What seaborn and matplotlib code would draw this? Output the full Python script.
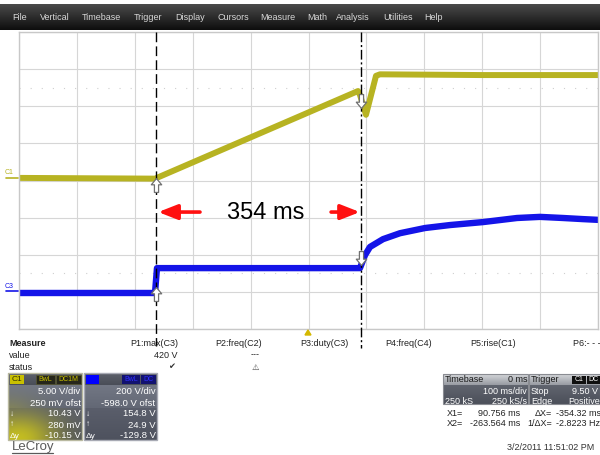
import numpy as np
import pandas as pd
import matplotlib
matplotlib.use("Agg")
import matplotlib.pyplot as plt
import seaborn as sns
from matplotlib.patches import Rectangle, Polygon
from matplotlib.lines import Line2D
from matplotlib.path import Path

# ---------------- data ----------------
# time in ms (100 ms/div, trigger at centre), amplitude in screen divisions
yellow_t_ms = [-500, -265, 85.5, 89, 99.3, 116.6, 123.5, 300, 500]
yellow_div = [0.07, 0.05, 2.41, 2.30, 1.77, 2.82, 2.86, 2.84, 2.84]

blue_t_ms = [-500, -265.1, -261.7, 88.9, 97.6, 106.2, 128.7, 158.0, 201.2,
             244.4, 301.4, 360.1, 399.8, 439.6, 474.1, 500]
blue_div = [-3.03, -3.03, -2.36, -2.36, -2.01, -1.79, -1.58, -1.42, -1.28,
            -1.20, -1.12, -1.01, -0.98, -1.01, -1.04, -1.06]

cursor_x2_ms = -263.564
cursor_x1_ms = 90.756
delta_label = "354 ms"

menu_items = ["File", "Vertical", "Timebase", "Trigger", "Display", "Cursors",
              "Measure", "Math", "Analysis", "Utilities", "Help"]
menu_x = [12, 40, 82, 134, 175, 217, 260, 307, 336, 383, 424]

measure_params = ["P1:max(C3)", "P2:freq(C2)", "P3:duty(C3)", "P4:freq(C4)",
                  "P5:rise(C1)", "P6:- - -"]
measure_x = [130, 215, 300, 385, 470, 573]

c1_values = ["5.00 V/div", "250 mV ofst", "10.43 V", "280 mV", "-10.15 V"]
c3_values = ["200 V/div", "-598.0 V ofst", "154.8 V", "24.9 V", "-129.8 V"]

YELLOW = "#b7b322"
BLUE = "#1414e8"

# ---------------- figure ----------------
sns.set_style("white")
plt.rcParams['font.family'] = ['Liberation Sans', 'DejaVu Sans']

W, H = 600, 455
fig = plt.figure(figsize=(6, 4.55), dpi=100)
fig.patch.set_facecolor("white")


def fx(px):
    return px / W


def fy(py):
    return 1 - py / H


def txt(px, py, s, **kw):
    kw.setdefault("va", "center")
    kw.setdefault("fontsize", 6.5)
    return fig.text(fx(px), fy(py), s, **kw)


def rect(x0, y0, x1, y1, **kw):
    r = Rectangle((fx(x0), fy(y1)), (x1 - x0) / W, (y1 - y0) / H,
                  transform=fig.transFigure, **kw)
    fig.add_artist(r)
    return r


def grad_box(x0, y0, x1, y1, top, bot, glow=None):
    w, h = int(x1 - x0), int(y1 - y0)
    yy, xx = np.mgrid[0:h, 0:w]
    t = (yy / max(h - 1, 1))[..., None]
    top = np.array(matplotlib.colors.to_rgb(top))
    bot = np.array(matplotlib.colors.to_rgb(bot))
    img = top * (1 - t) + bot * t
    if glow is not None:
        gx, gy, sx, sy, col, a = glow
        g = np.exp(-(((xx - gx) / sx) ** 2 + ((yy - gy) / sy) ** 2))[..., None] * a
        col = np.array(matplotlib.colors.to_rgb(col))
        img = img * (1 - g) + col * g
    bax = fig.add_axes([fx(x0), fy(y1), (x1 - x0) / W, (y1 - y0) / H])
    bax.imshow(np.clip(img, 0, 1), aspect="auto", interpolation="bilinear")
    bax.axis("off")
    return bax


# ---------------- menu bar ----------------
grad_box(0, 4, 600, 30, "#4a4a4a", "#0e0e0e")
for name, x in zip(menu_items, menu_x):
    txt(x, 17, name, color="#d8d8d8", fontsize=6.5, ha="left")

# ---------------- main scope display ----------------
ax = fig.add_axes([fx(19), fy(329), 579 / W, 297 / H])
ax.set_xlim(-500, 500)
ax.set_ylim(-4, 4)
ax.set_xticks(np.arange(-500, 501, 100))
ax.set_yticks(np.arange(-4, 5, 1))
ax.grid(True, color="#d6d6d6", lw=0.8)
ax.tick_params(length=0, labelbottom=False, labelleft=False)
for s in ax.spines.values():
    s.set_color("#c8c8c8")
    s.set_linewidth(1.0)
for yv in (2.5, -2.5):
    ax.axhline(yv, color="#cfcfcf", lw=0.8, ls=(0, (1, 9)))

ydf = pd.DataFrame({"t": yellow_t_ms, "v": yellow_div})
bdf = pd.DataFrame({"t": blue_t_ms, "v": blue_div})
sns.lineplot(data=ydf, x="t", y="v", ax=ax, color=YELLOW, lw=4.3,
             estimator=None, sort=False)
sns.lineplot(data=bdf, x="t", y="v", ax=ax, color=BLUE, lw=4.6,
             estimator=None, sort=False)
ax.set_xlabel("")
ax.set_ylabel("")

# cursors
ax.plot([cursor_x2_ms, cursor_x2_ms], [4, -4.45], color="black", lw=1.0,
        ls=(0, (7, 3)), clip_on=False, zorder=5)
ax.plot([cursor_x1_ms, cursor_x1_ms], [4, -4.5], color="black", lw=1.0,
        ls=(0, (7, 2, 1.5, 2)), clip_on=False, zorder=5)

# cursor intersection markers (hollow arrows) as marker paths
up_verts = [(0, 1), (0.75, 0.1), (0.3, 0.1), (0.3, -1), (-0.3, -1),
            (-0.3, 0.1), (-0.75, 0.1), (0, 1)]
up_arrow = Path(up_verts, closed=True)
down_arrow = Path([(x, -y) for x, y in up_verts], closed=True)
ax.plot([cursor_x2_ms, cursor_x2_ms], [-0.12, -3.05], ls="none",
        marker=up_arrow, ms=10, mfc="white", mec="#707070", mew=0.9, zorder=6)
ax.plot([cursor_x1_ms, cursor_x1_ms], [2.15, -2.1], ls="none",
        marker=down_arrow, ms=10, mfc="white", mec="#707070", mew=0.9, zorder=6)

# delta arrows
arr_y = -0.85
aprops = dict(arrowstyle="-|>,head_length=1.15,head_width=0.45",
              color="#ff1010", lw=2.6, mutation_scale=10,
              shrinkA=0, shrinkB=0)
ax.annotate("", xy=(cursor_x2_ms + 4, arr_y), xytext=(-187.4, arr_y),
            arrowprops=aprops, zorder=7)
ax.annotate("", xy=(cursor_x1_ms - 2, arr_y), xytext=(39.0, arr_y),
            arrowprops=aprops, zorder=7)
ax.text(-73.4, arr_y - 0.03, delta_label, ha="center", va="center",
        fontsize=17, color="black", zorder=7)

# channel labels
txt(5, 173, "C1", color=YELLOW, fontsize=5, ha="left")
fig.add_artist(Line2D([fx(6), fx(18)], [fy(178), fy(178)], color=YELLOW, lw=1.2))
txt(5, 286, "C3", color=BLUE, fontsize=5, ha="left")
fig.add_artist(Line2D([fx(6), fx(18)], [fy(291), fy(291)], color=BLUE, lw=1.2))

# trigger marker
fig.add_artist(Polygon([[fx(305), fy(335)], [fx(311), fy(335)], [fx(308), fy(330)]],
                       closed=True, transform=fig.transFigure, color="#d4b800"))

# ---------------- measure table ----------------
txt(9, 344, "Measure", fontweight="bold", color="#222222", ha="left")
txt(9, 355, "value", color="#222222", ha="left")
txt(9, 367, "status", color="#222222", ha="left")
for name, x in zip(measure_params, measure_x):
    txt(x, 344, name, color="#222222", ha="left")
txt(177, 355, "420 V", color="#222222", ha="right")
txt(255, 355, "---", color="#222222", ha="center")
txt(172, 367, "✔", color="#333333", ha="center", fontsize=6, family="DejaVu Sans")
txt(255, 367, "⚠", color="#444444", ha="center", fontsize=6, family="DejaVu Sans")

# ---------------- channel boxes ----------------
# C1
grad_box(8, 373, 82, 385, "#5c606a", "#4a4e58")
grad_box(8, 385, 82, 408, "#727784", "#636875",
         glow=(0, 30, 30, 18, "#c8c020", 0.35))
grad_box(8, 408, 82, 440, "#5a5e6b", "#4e525e",
         glow=(10, 30, 40, 26, "#c9c21e", 0.95))
rect(8, 373, 82, 440, fill=False, ec="#b9b9a0", lw=1.0)
rect(10, 375, 24, 384, fc="#c9c000", ec="none")
txt(17, 379.5, "C1", color="#333300", fontsize=6, ha="center")
rect(36, 375, 55, 384, fc="#26261a", ec="#5a5a30", lw=0.5)
txt(45.5, 379.5, "BwL", color="#c8c000", fontsize=5, ha="center")
rect(56, 375, 81, 384, fc="#26261a", ec="#5a5a30", lw=0.5)
txt(68.5, 379.5, "DC1M", color="#c8c000", fontsize=5, ha="center")

# C3
grad_box(84, 373, 157, 385, "#5c606a", "#4a4e58")
grad_box(84, 385, 157, 408, "#727784", "#636875")
grad_box(84, 408, 157, 440, "#5a5e6b", "#4e525e")
rect(84, 373, 157, 440, fill=False, ec="#a8aab4", lw=1.0)
rect(86, 375, 99, 384, fc="#0000ff", ec="none")
rect(122, 375, 140, 384, fc="#121270", ec="none")
txt(131, 379.5, "BwL", color="#3030ff", fontsize=5, ha="center")
rect(141, 375, 156, 384, fc="#121270", ec="none")
txt(148.5, 379.5, "DC", color="#3030ff", fontsize=5, ha="center")

rows_y = [392, 403, 414, 425, 436]
for v1, v3, yy in zip(c1_values, c3_values, rows_y):
    txt(80.5, yy, v1, color="white", fontsize=6.8, ha="right")
    txt(155.5, yy, v3, color="white", fontsize=6.8, ha="right")
for sym, yy in zip(["↓", "↑", "Δy"], rows_y[2:]):
    txt(10, yy, sym, color="white", fontsize=6, ha="left")
    txt(86, yy, sym, color="white", fontsize=6, ha="left")

# ---------------- timebase / trigger boxes ----------------
grad_box(443, 374, 528, 385, "#d2d4d8", "#9a9da4")
grad_box(443, 385, 528, 404, "#60646e", "#4c505a")
rect(443, 374, 528, 404, fill=False, ec="#8a8c92", lw=0.8)
txt(445, 379.5, "Timebase", color="#1a1a1a", fontsize=6.5, ha="left")
txt(527, 379.5, "0 ms", color="#1a1a1a", fontsize=6.5, ha="right")
txt(527, 391, "100 ms/div", color="white", fontsize=6.5, ha="right")
txt(445, 401, "250 kS", color="white", fontsize=6.5, ha="left")
txt(527, 401, "250 kS/s", color="white", fontsize=6.5, ha="right")

grad_box(529, 374, 600, 385, "#d2d4d8", "#9a9da4")
grad_box(529, 385, 600, 404, "#60646e", "#4c505a")
rect(529, 374, 600, 404, fill=False, ec="#8a8c92", lw=0.8)
txt(531, 379.5, "Trigger", color="#1a1a1a", fontsize=6.5, ha="left")
rect(572, 375.5, 586, 383.5, fc="#101010", ec="none")
txt(579, 379.5, "C1", color="white", fontsize=5, ha="center")
rect(587, 375.5, 601, 383.5, fc="#101010", ec="none")
txt(588, 379.5, "DC", color="white", fontsize=5, ha="left")
txt(531, 391, "Stop", color="white", fontsize=6.5, ha="left")
txt(598, 391, "9.50 V", color="white", fontsize=6.5, ha="right")
txt(531, 401, "Edge", color="white", fontsize=6.5, ha="left")
txt(600, 401, "Positive", color="white", fontsize=6.5, ha="right")

txt(447, 413, "X1=", color="#222222", ha="left")
txt(520, 413, "90.756 ms", color="#222222", ha="right")
txt(552, 413, "ΔX=", color="#222222", ha="right")
txt(556, 413, "-354.32 ms", color="#222222", ha="left")
txt(447, 424, "X2=", color="#222222", ha="left")
txt(520, 424, "-263.564 ms", color="#222222", ha="right")
txt(552, 424, "1/ΔX=", color="#222222", ha="right")
txt(556, 424, "-2.8223 Hz", color="#222222", ha="left")

txt(594, 448, "3/2/2011 11:51:02 PM", color="#333333", fontsize=6.5, ha="right")

# logo
txt(12, 447, "LeCroy", color="#5a5a5a", fontsize=9.5, ha="left")
fig.add_artist(Line2D([fx(12), fx(53)], [fy(453), fy(453)], color="#5a5a5a", lw=0.9))

fig.savefig("out.png", dpi=100, facecolor="white")
